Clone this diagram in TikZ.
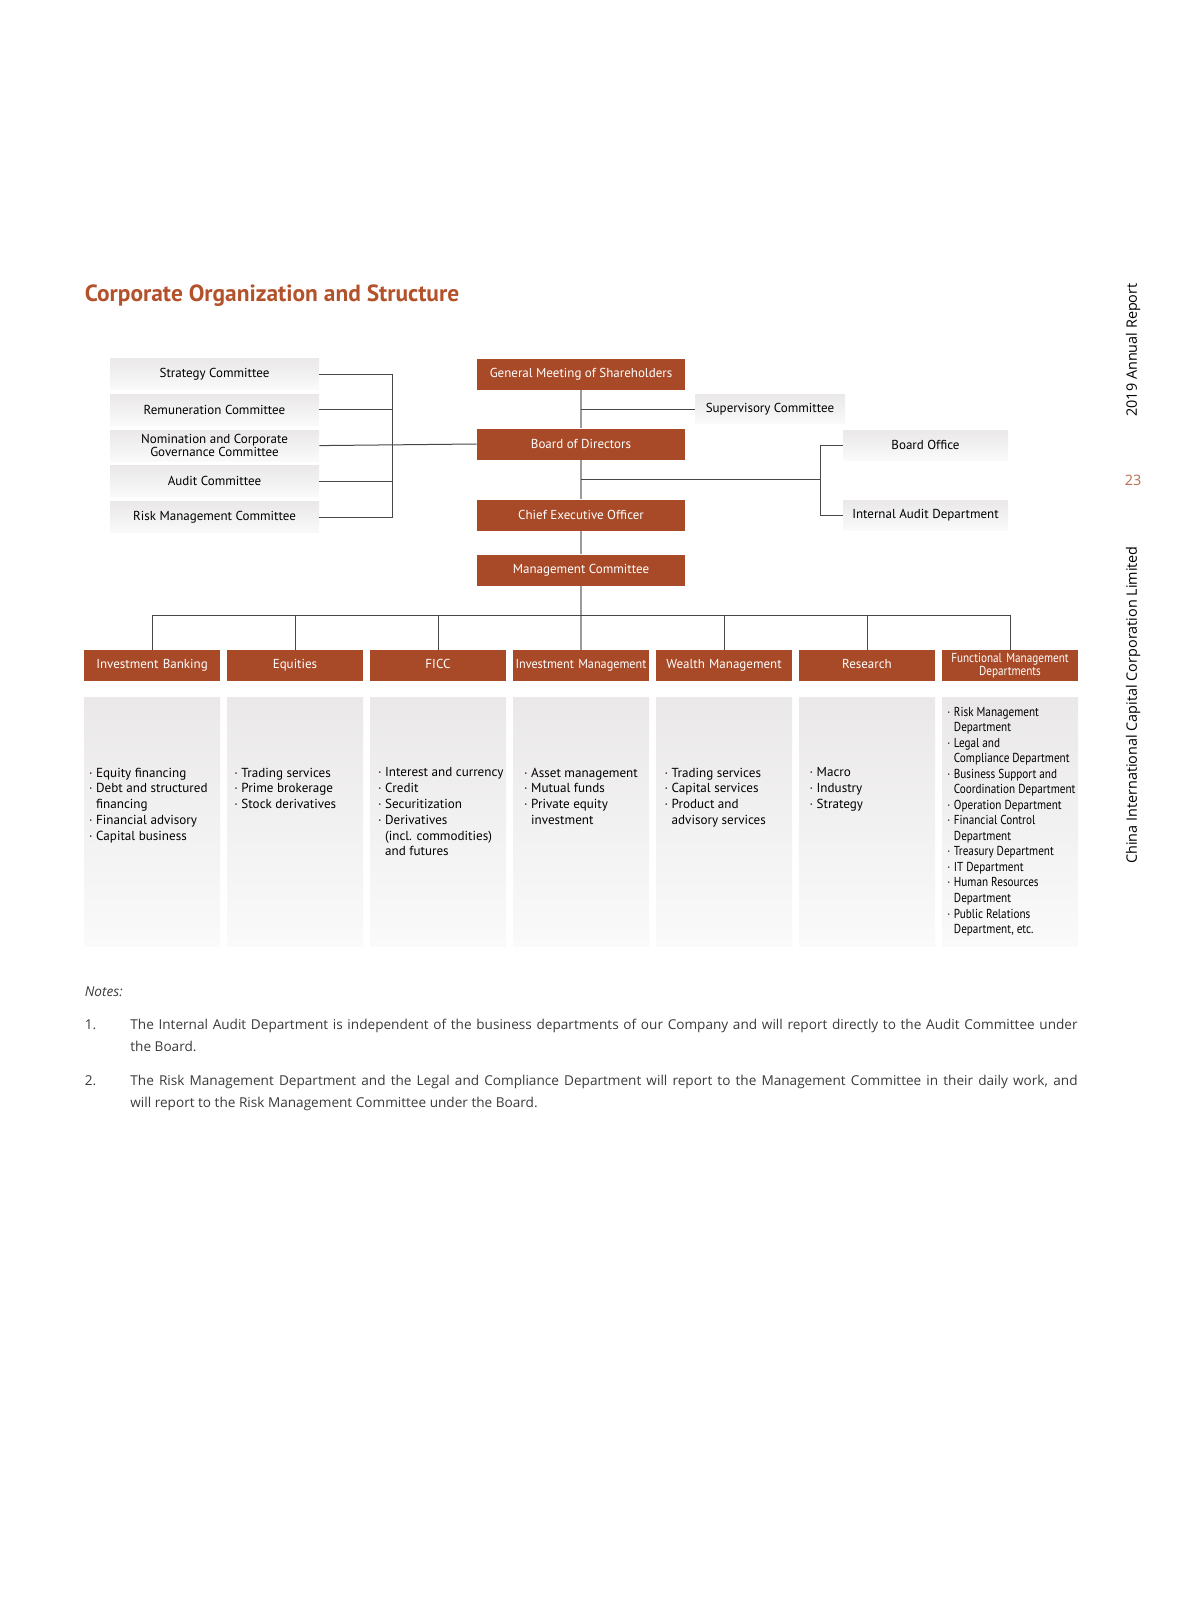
\documentclass[tikz,border=0pt]{standalone}
\usepackage{fontspec}
\setmainfont{PT Sans}
\newfontfamily\narrowfont[FakeStretch=0.86]{PT Sans}
\newfontfamily\semifont[FakeStretch=0.94]{PT Sans}
\newfontfamily\notefont{Open Sans}
\usetikzlibrary{positioning}

\definecolor{rust}{HTML}{A84A28}
\definecolor{titlerust}{HTML}{B3512B}
\definecolor{pagenum}{HTML}{B86A4E}
\definecolor{lightgrey}{HTML}{EAE8E8}
\definecolor{paler}{HTML}{FAFAFA}
\definecolor{linegrey}{HTML}{474747}
\definecolor{spinegrey}{HTML}{9B9B9B}
\definecolor{notegrey}{HTML}{3A3A3A}

\tikzset{
  boxfont/.style={font=\fontsize{6.5}{6.7}\selectfont},
  rustbox/.style={boxfont, fill=rust, text=white, inner sep=0pt, align=center, minimum height=15.5pt},
  greybox/.style={boxfont, top color=lightgrey, bottom color=paler, draw=none, inner sep=0pt, align=center, text=black},
  committee/.style={greybox, minimum width=104.5pt, minimum height=15.5pt},
  topbox/.style={rustbox, minimum width=104pt},
  deptbox/.style={rustbox, minimum width=68pt, text width=68pt, execute at begin node=\vphantom{Ay}},
  listbox/.style={greybox, minimum width=68pt, minimum height=124.75pt},
  items/.style={font=\fontsize{6.55}{7.9}\selectfont, align=left, anchor=north west, inner sep=0pt},
  conn/.style={draw=linegrey, line width=0.5pt},
  spine/.style={draw=spinegrey, line width=1pt},
  sidetext/.style={font=\notefont\fontsize{7.2}{8}\selectfont, inner sep=0pt},
}
\newcommand{\bl}{·\hspace{0.28em}}
\newcommand{\cn}{\phantom{\bl}}

\begin{document}
\begin{tikzpicture}[x=0.5pt, y=-0.5pt]
  \useasboundingbox (0,0) rectangle (1190,1615);

  % title
  \node[anchor=west, inner sep=0pt, text=titlerust,
    font=\bfseries\fontsize{11.7}{13}\selectfont] (title) at (84.5,296)
    {Corporate Organization and Structure};

  % board committees
  \node[committee] (strat) at (214.5,374) {Strategy Committee};
  \node[committee, below=2pt of strat] (remu) {Remuneration Committee};
  \node[committee, below=2pt of remu] (nomi) {Nomination and Corporate\\Governance Committee};
  \node[committee, below=2pt of nomi] (audit) {Audit Committee};
  \node[committee, below=2pt of audit] (risk) {Risk Management Committee};

  % main column
  \node[topbox] (gm) at (581,374) {General Meeting of Shareholders};
  \node[topbox] (board) at (581,444) {Board of Directors};
  \node[topbox] (ceo) at (581,515) {Chief Executive Officer};
  \node[topbox] (mc) at (581,570) {Management Committee};

  \node[greybox, minimum width=75pt, minimum height=14.5pt] (sup) at (770,409) {Supervisory Committee};
  \node[greybox, minimum width=82.5pt, minimum height=15pt] (boffice) at (925.5,445) {Board Office};
  \node[greybox, minimum width=82.5pt, minimum height=15pt] (iad) at (925.5,515) {Internal Audit Department};

  % business lines
  \node[deptbox] (ib) at (152,665.5) {Investment Banking};
  \node[deptbox, right=3.1pt of ib] (eq) {Equities};
  \node[deptbox, right=3.1pt of eq] (ficc) {FICC};
  \node[deptbox, right=3.1pt of ficc, font=\semifont\fontsize{6.5}{6.7}\selectfont] (im) {Investment Management};
  \node[deptbox, right=3.1pt of im] (wm) {Wealth Management};
  \node[deptbox, right=3.1pt of wm] (res) {Research};
  \node[deptbox, right=3.1pt of res, font=\narrowfont\fontsize{6.5}{6.7}\selectfont] (fmd) {Functional Management\\Departments};

  \foreach \d in {ib,eq,ficc,im,wm,res,fmd}
    \node[listbox, below=7.75pt of \d] (\d-list) {};

  % lists
  \node[items] (iblist) at ([xshift=2.5pt, yshift=-35.25pt]ib-list.north west)
    {\bl Equity financing\\\bl Debt and structured\\\cn financing\\\bl Financial advisory\\\bl Capital business};
  \node[items] (eqlist) at ([xshift=3.65pt, yshift=-35.25pt]eq-list.north west)
    {\bl Trading services\\\bl Prime brokerage\\\bl Stock derivatives};
  \node[items] (ficclist) at ([xshift=4pt, yshift=-35.25pt]ficc-list.north west)
    {\bl Interest and currency\\\bl Credit\\\bl Securitization\\\bl Derivatives\\\cn (incl. commodities)\\\cn and futures};
  \node[items] (imlist) at ([xshift=5.5pt, yshift=-35.25pt]im-list.north west)
    {\bl Asset management\\\bl Mutual funds\\\bl Private equity\\\cn investment};
  \node[items] (wmlist) at ([xshift=4.25pt, yshift=-35.25pt]wm-list.north west)
    {\bl Trading services\\\bl Capital services\\\bl Product and\\\cn advisory services};
  \node[items] (reslist) at ([xshift=5.25pt, yshift=-35.25pt]res-list.north west)
    {\bl Macro\\\bl Industry\\\bl Strategy};
  \node[items, font=\narrowfont\fontsize{6.5}{7.77}\selectfont] (fmdlist) at ([xshift=2.65pt, yshift=-4.75pt]fmd-list.north west)
    {\bl Risk Management\\\cn Department\\\bl Legal and\\\cn Compliance Department\\\bl Business Support and\\\cn Coordination Department\\\bl Operation Department\\\bl Financial Control\\\cn Department\\\bl Treasury Department\\\bl IT Department\\\bl Human Resources\\\cn Department\\\bl Public Relations\\\cn Department, etc.};

  % connectors
  \coordinate (cbar) at (392.5,444);
  \foreach \c in {strat,remu,audit,risk} \draw[conn] (\c.east) -| (cbar);
  \draw[conn] (nomi.east) -- (board.west);

  \draw[spine] (gm.south) -- (board.north);
  \draw[spine] (board.south) -- (ceo.north);
  \draw[spine] (ceo.south) -- (mc.north);
  \draw[spine] (mc.south) -- (im.north -| mc.south);
  \draw[conn] (sup.west) -- (sup.west -| gm.south);

  \coordinate (obar) at (820,479.5);
  \draw[conn] (boffice.west) -| (obar);
  \draw[conn] (iad.west) -| (obar);
  \draw[conn] (obar) -- (obar -| board.south);

  \coordinate (dbus) at (581,615);
  \foreach \d in {ib,eq,ficc,wm,res,fmd} \draw[conn] (\d.north) |- (dbus);

  % notes
  \begin{scope}[every node/.style={inner sep=0pt, text=notegrey, font=\notefont\fontsize{6.8}{11}\selectfont}]
    \node[anchor=base west, font=\notefont\itshape\fontsize{6.8}{11}\selectfont] (notes) at (84.5,996) {Notes:};
    \node[anchor=base west] (n1) at (84.5,1029) {1.};
    \node[anchor=base west, text width=473.6pt, align=justify] (t1) at (130,1029)
      {The Internal Audit Department is independent of the business departments of our Company and will report directly to the Audit Committee under\linebreak the Board.};
    \node[anchor=base west] (n2) at (84.5,1085) {2.};
    \node[anchor=base west, text width=473.6pt, align=justify] (t2) at (130,1085)
      {The Risk Management Department and the Legal and Compliance Department will report to the Management Committee in their daily work, and\linebreak will report to the Risk Management Committee under the Board.};
  \end{scope}

  % side of page
  \node[sidetext, rotate=90] (year) at (1133,350) {2019 Annual Report};
  \node[sidetext, text=pagenum] (page) at (1133,480) {23};
  \node[sidetext, rotate=90] (company) at (1133,705) {China International Capital Corporation Limited};
\end{tikzpicture}
\end{document}
